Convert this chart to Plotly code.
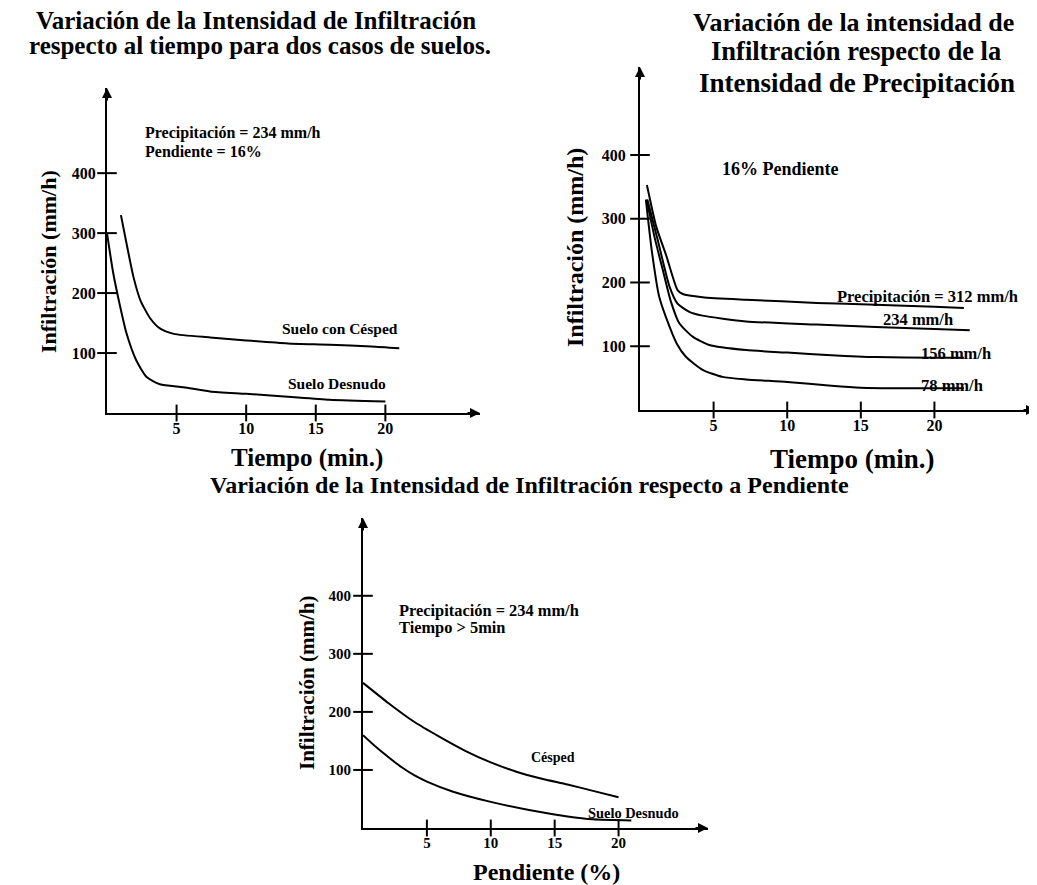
import plotly.graph_objects as go

W, H = 1037, 885
OFF = 8  # browser default body margin
FW, FH = W - OFF, H - OFF

# ---------------- data ----------------
# Chart 1: infiltration vs time, two soils
t_cesped = [1.0, 1.4, 1.9, 2.4, 3.1, 3.8, 4.8, 7.4, 10.0, 13.0, 16.0, 19.0, 21.0]
i_cesped = [330, 283, 227, 188, 158, 141, 132, 126, 121, 116, 114, 111, 108]
t_desnudo = [0.0, 0.45, 0.95, 1.4, 2.1, 2.85, 3.8, 5.5, 7.4, 10.0, 13.0, 16.0, 20.0]
i_desnudo = [300, 233, 177, 133, 88, 60, 48, 43, 36, 32, 27, 22, 19]

# Chart 2: infiltration vs time for four precipitation intensities
t_312 = [0.47, 1.1, 1.8, 2.55, 2.9, 4.25, 7.2, 12.0, 16.0, 20.0, 22.0]
i_312 = [353, 288, 241, 188, 182, 177, 173, 168, 165, 162, 160]
t_234 = [0.5, 1.2, 2.0, 2.55, 3.35, 4.25, 7.2, 12.0, 16.0, 20.0, 22.4]
i_234 = [330, 267, 194, 167, 154, 148, 139, 134, 130, 127, 125]
t_156 = [0.45, 1.0, 1.6, 2.1, 2.67, 3.58, 4.7, 7.2, 10.0, 13.0, 16.0, 20.0, 22.0]
i_156 = [330, 270, 215, 170, 136, 115, 102, 94, 90, 86, 83, 82, 82]
t_78 = [0.4, 0.8, 1.3, 2.0, 2.5, 3.1, 4.25, 5.6, 7.2, 10.0, 13.0, 15.0, 18.0, 22.0]
i_78 = [330, 250, 178, 131, 104, 84, 63, 52, 48, 44, 38, 35, 34, 34]

# Chart 3: infiltration vs slope
p_cesped = [0, 2, 4, 6, 8, 10, 12, 14, 16, 18, 20]
f_cesped = [250, 215, 183, 157, 133, 113, 97, 85, 75, 64, 53]
p_desnudo = [0, 1, 2, 3, 4, 5, 7, 10, 13, 16, 18, 21]
f_desnudo = [160, 140, 122, 105, 91, 80, 63, 45, 31, 20, 15, 13]

y_ticks = [100, 200, 300, 400]
x_ticks = [5, 10, 15, 20]

FONT = "Liberation Serif, Times New Roman, DejaVu Serif, serif"


def px(x, y):
    return (x - OFF) / FW, 1 - (y - OFF) / FH


def dx(a, b):
    return [(a - OFF) / FW, (b - OFF) / FW]


def dy(bottom, top):
    return [1 - (bottom - OFF) / FH, 1 - (top - OFF) / FH]


fig = go.Figure()

line = dict(color="black", width=2, shape="spline", smoothing=0.6)


def add_curve(x, y, ax):
    fig.add_trace(go.Scatter(x=x, y=y, mode="lines", line=line, xaxis="x" + ax, yaxis="y" + ax,
                             hoverinfo="skip", showlegend=False))


def add_ticks(ax):
    fig.add_trace(go.Scatter(x=[0] * len(y_ticks), y=y_ticks, mode="markers",
                             marker=dict(symbol="line-ew", size=14, line=dict(color="black", width=2)),
                             xaxis="x" + ax, yaxis="y" + ax, cliponaxis=False, hoverinfo="skip", showlegend=False))
    fig.add_trace(go.Scatter(x=x_ticks, y=[0] * len(x_ticks), mode="markers",
                             marker=dict(symbol="line-ns", size=12, line=dict(color="black", width=2)),
                             xaxis="x" + ax, yaxis="y" + ax, cliponaxis=False, hoverinfo="skip", showlegend=False))


add_curve(t_cesped, i_cesped, "")
add_curve(t_desnudo, i_desnudo, "")
add_ticks("")
for tt, ii in [(t_312, i_312), (t_234, i_234), (t_156, i_156), (t_78, i_78)]:
    add_curve(tt, ii, "2")
add_ticks("2")
add_curve(p_cesped, f_cesped, "3")
add_curve(p_desnudo, f_desnudo, "3")
add_ticks("3")


def xa(dom, rng, anchor, fs):
    return dict(domain=dom, range=rng, showline=True, linecolor="black", linewidth=2,
                showgrid=False, zeroline=False, ticks="", tickvals=x_ticks,
                ticktext=[f"<b>{v}</b>" for v in x_ticks], ticklabelstandoff=0,
                tickfont=dict(family=FONT, size=fs, color="black"), anchor=anchor, fixedrange=True)


def ya(dom, rng, anchor, fs, so):
    return dict(domain=dom, range=rng, showline=True, linecolor="black", linewidth=2,
                showgrid=False, zeroline=False, ticks="", tickvals=y_ticks,
                ticktext=[f"<b>{v}</b>" for v in y_ticks], ticklabelstandoff=so,
                tickfont=dict(family=FONT, size=fs, color="black"), anchor=anchor, fixedrange=True)


fig.update_layout(
    width=FW, height=FH, margin=dict(l=0, r=0, t=0, b=0),
    paper_bgcolor="white", plot_bgcolor="white", showlegend=False,
    xaxis=xa(dx(107, 480), [0, 26.8], "y", 16),
    yaxis=ya(dy(413, 88), [0, 542], "x", 16, 6),
    xaxis2=xa(dx(640, 1036), [0, 26.9], "y2", 16),
    yaxis2=ya(dy(410, 67), [0, 538], "x2", 16, 9),
    xaxis3=xa(dx(363, 708), [0, 27], "y3", 15),
    yaxis3=ya(dy(828, 518), [0, 534], "x3", 15, 7),
)

ann = []


def text(x, y, s, size, xanchor="center", angle=0):
    X, Y = px(x, y)
    ann.append(dict(x=X, y=Y, xref="paper", yref="paper", text=s, showarrow=False,
                    xanchor=xanchor, yanchor="middle", textangle=angle,
                    font=dict(family=FONT, size=size, color="black")))


def arrows(ax, xend, yend):
    ann.append(dict(x=xend, y=0, xref="x" + ax, yref="y" + ax, ax=-14, ay=0, text="",
                    showarrow=True, arrowhead=2, arrowsize=1, arrowwidth=2, arrowcolor="black"))
    ann.append(dict(x=0, y=yend, xref="x" + ax, yref="y" + ax, ax=0, ay=14, text="",
                    showarrow=True, arrowhead=2, arrowsize=1, arrowwidth=2, arrowcolor="black"))


arrows("", 26.8, 542)
arrows("2", 26.9, 538)
arrows("3", 27, 534)

# Chart 1 texts
text(256, 20, "<b>Variación de la Intensidad de Infiltración</b>", 25)
text(260, 46, "<b>respecto al tiempo para dos casos de suelos.</b>", 25)
text(143, 133, "<b>Precipitación = 234 mm/h</b>", 16, "left")
text(143, 152, "<b>Pendiente = 16%</b>", 16, "left")
text(340, 328, "<b>Suelo con Césped</b>", 15.5)
text(337, 383, "<b>Suelo Desnudo</b>", 15.5)
text(48, 262, "<b>Infiltración (mm/h)</b>", 22, angle=-90)
text(307, 458, "<b>Tiempo (min.)</b>", 25)

# Chart 2 texts
text(853, 22, "<b>Variación de la intensidad de</b>", 26)
text(856, 51, "<b>Infiltración respecto de la</b>", 26.5)
text(857, 83, "<b>Intensidad de Precipitación</b>", 27)
text(780, 169, "<b>16% Pendiente</b>", 18)
text(927, 296, "<b>Precipitación = 312 mm/h</b>", 16.5)
text(918, 320, "<b>234 mm/h</b>", 16.5)
text(956, 353, "<b>156 mm/h</b>", 16.5)
text(952, 385, "<b>78 mm/h</b>", 16.5)
text(575, 248, "<b>Infiltración (mm/h)</b>", 24, angle=-90)
text(852, 459, "<b>Tiempo (min.)</b>", 27)

# Chart 3 texts
text(529, 485, "<b>Variación de la Intensidad de Infiltración respecto a Pendiente</b>", 24)
text(397, 610, "<b>Precipitación = 234 mm/h</b>", 16.4, "left")
text(397, 627, "<b>Tiempo > 5min</b>", 16.4, "left")
text(553, 757, "<b>Césped</b>", 14)
text(633, 813, "<b>Suelo Desnudo</b>", 14.4)
text(307, 683, "<b>Infiltración (mm/h)</b>", 21, angle=-90)
text(546, 872, "<b>Pendiente (%)</b>", 24)

fig.update_layout(annotations=ann)
fig.write_html("out.html")
